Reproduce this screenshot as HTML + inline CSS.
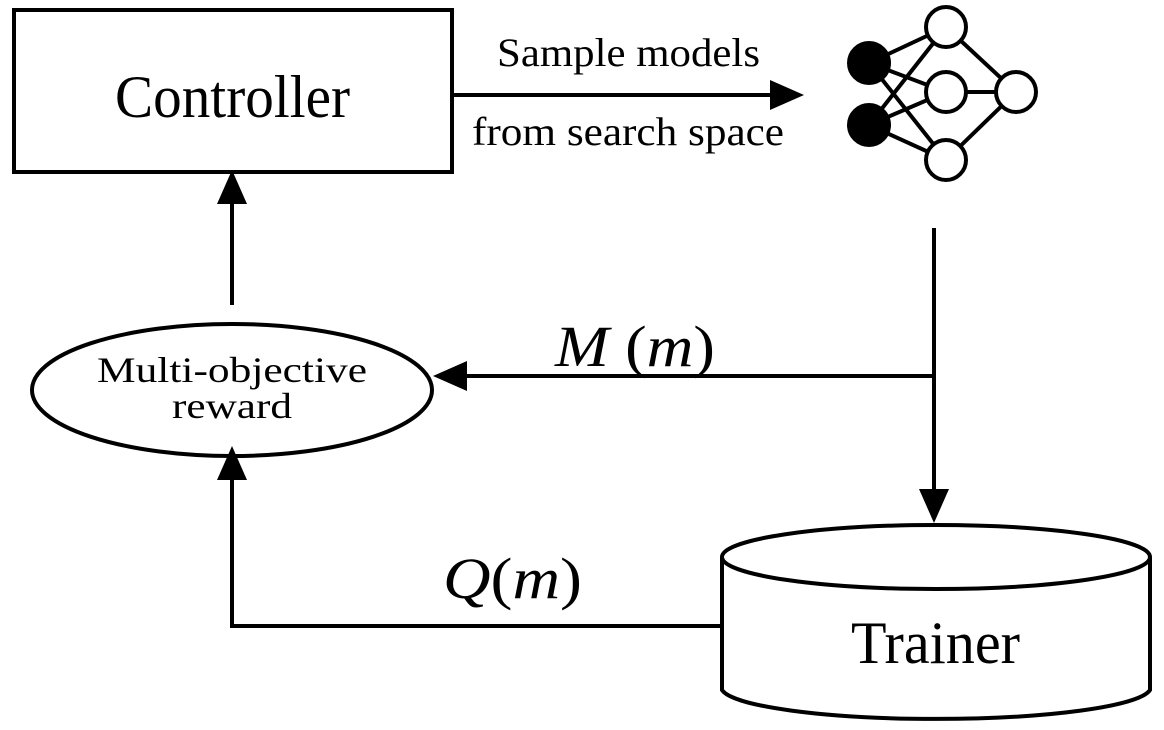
<!DOCTYPE html>
<html><head><style>body{margin:0;background:#fff}svg{display:block}</style></head><body>
<svg width="1164" height="730" viewBox="0 0 1164 730" xmlns="http://www.w3.org/2000/svg" font-family="Liberation Serif, serif">
<g fill="none" stroke="#000" stroke-width="4">
<rect x="14" y="10" width="438" height="162"/>
<ellipse cx="232" cy="390" rx="200" ry="66"/>
<path d="M722 557 V690 A215 32 0 0 0 1150 690 V557"/>
<ellipse cx="936" cy="557" rx="214" ry="32" fill="#fff"/>
<line x1="454" y1="95" x2="775" y2="95"/>
<line x1="232" y1="305" x2="232" y2="200"/>
<line x1="934" y1="228" x2="934" y2="495"/>
<line x1="934" y1="376" x2="465" y2="376"/>
<path d="M722 626 H232 V478"/>
<g stroke-width="4">
<line x1="869" y1="63" x2="946" y2="27"/><line x1="869" y1="63" x2="946" y2="92"/><line x1="869" y1="63" x2="946" y2="160"/>
<line x1="869" y1="125" x2="946" y2="27"/><line x1="869" y1="125" x2="946" y2="92"/><line x1="869" y1="125" x2="946" y2="160"/>
<line x1="946" y1="27" x2="1016" y2="92"/><line x1="946" y1="92" x2="1016" y2="92"/><line x1="946" y1="160" x2="1016" y2="92"/>
<circle cx="869" cy="63" r="20" fill="#000"/><circle cx="869" cy="125" r="20" fill="#000"/>
<circle cx="946" cy="27" r="20" fill="#fff"/><circle cx="946" cy="92" r="20" fill="#fff"/><circle cx="946" cy="160" r="20" fill="#fff"/><circle cx="1016" cy="92" r="20" fill="#fff"/>
</g>
</g>
<g fill="#000">
<polygon points="804,95 770,80 770,110"/>
<polygon points="232,170 217,204 247,204"/>
<polygon points="934,523 919,489 949,489"/>
<polygon points="433,376 467,361 467,391"/>
<polygon points="232,446 217,480 247,480"/>
</g>
<g fill="#000">
<text x="115" y="117" font-size="60" textLength="235" lengthAdjust="spacingAndGlyphs">Controller</text>
<text x="497" y="66" font-size="40" textLength="263" lengthAdjust="spacingAndGlyphs">Sample models</text>
<text x="472" y="145" font-size="40" textLength="312" lengthAdjust="spacingAndGlyphs">from search space</text>
<text x="97" y="382" font-size="36" textLength="270" lengthAdjust="spacingAndGlyphs">Multi-objective</text>
<text x="172" y="418" font-size="36" textLength="120" lengthAdjust="spacingAndGlyphs">reward</text>
<text x="851" y="663" font-size="60" textLength="169" lengthAdjust="spacingAndGlyphs">Trainer</text>
<text x="555" y="366" font-size="58" textLength="160" lengthAdjust="spacingAndGlyphs"><tspan font-style="italic">M</tspan> (<tspan font-style="italic">m</tspan>)</text>
<text x="443" y="598" font-size="58" textLength="139" lengthAdjust="spacingAndGlyphs"><tspan font-style="italic">Q</tspan>(<tspan font-style="italic">m</tspan>)</text>
</g>
</svg>
</body></html>
